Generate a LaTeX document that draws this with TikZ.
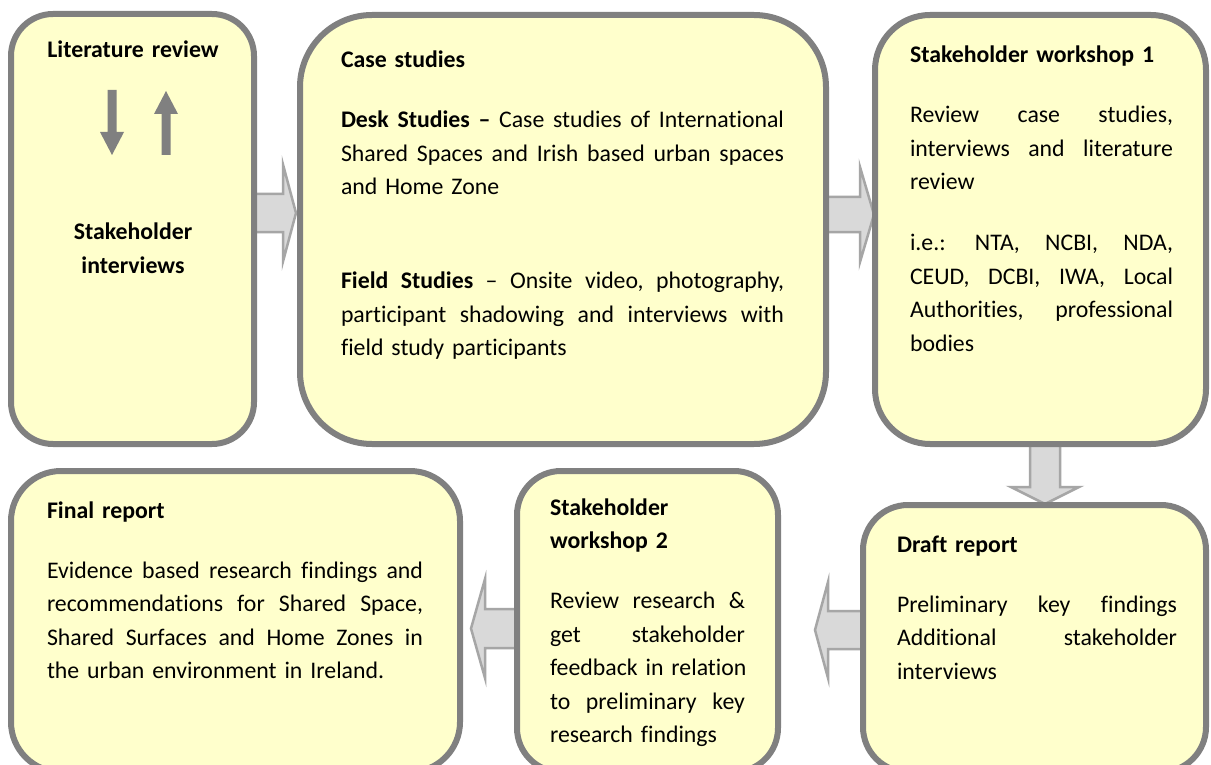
\documentclass[tikz,border=0pt]{standalone}
\usepackage{fontspec}
\setmainfont{Carlito}[Ligatures={NoCommon}]
\setlength{\parindent}{0pt}
\definecolor{boxfill}{HTML}{FFFFCC}
\definecolor{boxline}{HTML}{808080}
\definecolor{arrfill}{HTML}{D9D9D9}
\definecolor{arrline}{HTML}{A6A6A6}
\pgfdeclarelayer{background}
\pgfsetlayers{background,main}
\def\jw{100pt}
\newcommand\jl[1]{\hbox to \jw{#1}}
\newcommand\harrow[6]{\draw[blockarrow] (#1,#4-#5) -- (#2,#4-#5) -- (#2,#4-#6) -- (#3,#4) -- (#2,#4+#6) -- (#2,#4+#5) -- (#1,#4+#5) -- cycle;}
\newcommand\varrow[6]{\draw[blockarrow] (#4-#5,#1) -- (#4-#5,#2) -- (#4-#6,#2) -- (#4,#3) -- (#4+#6,#2) -- (#4+#5,#2) -- (#4+#5,#1) -- cycle;}
\begin{document}
\begin{tikzpicture}[x=1pt,y=-1pt,
  stagebox/.style={draw=boxline, fill=boxfill, line width=6pt, inner sep=0pt, outer sep=0pt, anchor=north west},
  blockarrow/.style={fill=arrfill, draw=arrline, line width=2.5pt, line join=miter},
  smallarrow/.style={fill=boxline},
  txt/.style={anchor=north west, inner sep=0pt, outer sep=0pt, font=\fontsize{23.8}{33.5}\selectfont},
  ctxt/.style={anchor=north, inner sep=0pt, outer sep=0pt, align=center, font=\fontsize{23.8}{33.5}\selectfont}]
\useasboundingbox (0,0) rectangle (1211,765);
\clip (0,0) rectangle (1211,765);

% boxes
\node[stagebox, rounded corners=42pt, minimum width=243pt, minimum height=430pt] (b1) at (11,14) {};
\node[stagebox, rounded corners=72pt, minimum width=526pt, minimum height=429pt] (b2) at (300,15) {};
\node[stagebox, rounded corners=55pt, minimum width=331pt, minimum height=429pt] (b3) at (875,15) {};
\node[stagebox, rounded corners=50pt, minimum width=449pt, minimum height=301pt] (b4) at (11,471) {};
\node[stagebox, rounded corners=44pt, minimum width=261pt, minimum height=301pt] (b5) at (517,471) {};
\node[stagebox, rounded corners=45pt, minimum width=343pt, minimum height=267pt] (b6) at (863,505) {};

% block arrows between boxes (behind the boxes)
\begin{pgfonlayer}{background}
\fill[white] (0,0) rectangle (1211,765);
\harrow{254}{283}{296}{213}{19}{48.5}
\harrow{826}{860}{874}{214.5}{17.5}{47.5}
\varrow{444}{487}{504}{1045}{15}{34}
\harrow{863}{828}{815}{630}{19}{48}
\harrow{517}{485}{471}{628.5}{19.5}{49.5}
\end{pgfonlayer}

% small arrows in box 1
\fill[smallarrow] (107.5,90) -- (116.5,90) -- (116.5,132) -- (124,132) -- (112,155) -- (100,132) -- (107.5,132) -- cycle;
\fill[smallarrow] (161.5,155) -- (170.5,155) -- (170.5,114) -- (178,114) -- (166,91) -- (154,114) -- (161.5,114) -- cycle;

% texts
\node[ctxt, text width=220pt] (t1a) at (133,34.55) {\strut\textbf{Literature review}};
\node[ctxt, text width=220pt] (t1b) at (133,216.55) {\strut\textbf{Stakeholder}\\\textbf{interviews}};

\node[txt, text width=443pt] (t2) at (341,44.55) {\def\jw{443pt}\strut\textbf{Case studies}\par\vspace{26.5pt}
\jl{\textbf{Desk \hfill Studies \hfill –} \hfill Case \hfill studies \hfill of \hfill International}
\jl{Shared \hfill Spaces \hfill and \hfill Irish \hfill based \hfill urban \hfill spaces}
and Home Zone\par\vspace{60.5pt}
\jl{\textbf{Field \hfill Studies} \hfill – \hfill Onsite \hfill video, \hfill photography,}
\jl{participant \hfill shadowing \hfill and \hfill interviews \hfill with}
field study participants};

\node[txt, text width=263pt] (t3) at (910,39.55) {\def\jw{263pt}\strut\textbf{Stakeholder workshop 1}\par\vspace{26.5pt}
\jl{Review \hfill case \hfill studies,}
\jl{interviews \hfill and \hfill literature}
review\par\vspace{27.5pt}
\jl{i.e.: \hfill NTA, \hfill NCBI, \hfill NDA,}
\jl{CEUD, \hfill DCBI, \hfill IWA, \hfill Local}
\jl{Authorities, \hfill professional}
bodies};

\node[txt, text width=376pt] (t4) at (47,494.55) {\def\jw{376pt}\strut\textbf{Final report}\par\vspace{26.5pt}
\jl{Evidence \hfill based \hfill research \hfill findings \hfill and}
\jl{recommendations \hfill for \hfill Shared \hfill Space,}
\jl{Shared \hfill Surfaces \hfill and \hfill Home \hfill Zones \hfill in}
the urban environment in Ireland.};

\begin{scope}
\clip (500,460) rectangle (800,746);
\node[txt, text width=195pt] (t5) at (550,491.55) {\def\jw{195pt}\strut\textbf{Stakeholder}\par\textbf{workshop 2}\par\vspace{26.5pt}
\jl{Review \hfill research \hfill \&}
\jl{get \hfill stakeholder}
\jl{feedback \hfill in \hfill relation}
\jl{to \hfill preliminary \hfill key}
research findings};
\end{scope}

\node[txt, text width=280pt] (t6) at (897,528.55) {\def\jw{280pt}\strut\textbf{Draft report}\par\vspace{26.5pt}
\jl{Preliminary \hfill key \hfill findings}
\jl{Additional \hfill stakeholder}
interviews};
\end{tikzpicture}
\end{document}
